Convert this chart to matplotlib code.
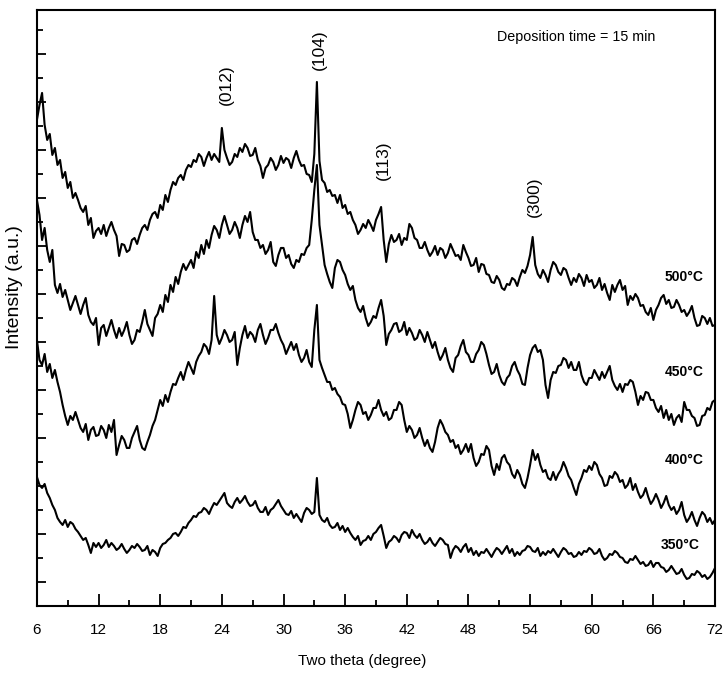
import numpy as np
import matplotlib
matplotlib.use('Agg')
import matplotlib.pyplot as plt
from matplotlib.ticker import MultipleLocator

# XRD patterns, 2theta sampled every 0.25 degree from 6 to 72
two_theta = np.arange(6, 72.001, 0.25)

i_500 = [
    486, 501, 513, 481,  466, 472, 451, 458,  441, 446, 428, 434,  418, 424, 408, 413,
    406, 398, 394, 400,  381, 388, 368, 375,  378, 372, 381, 370,  378, 384, 376, 370,
    350, 362, 361, 354,  356, 366, 368, 362,  371, 378, 381, 376,  386, 392, 394, 388,
    401, 396, 411, 404,  416, 424, 421, 428,  431, 426, 436, 441,  439, 446, 444, 452,
    449, 440, 448, 454,  446, 452, 448, 444,  478, 456, 448, 441,  444, 452, 449, 458,
    454, 462, 458, 450,  451, 458, 446, 440,  428, 438, 441, 448,  444, 436, 441, 450,
    443, 448, 446, 438,  448, 455, 446, 440,  441, 432, 431, 424,  452, 524, 445, 426,
    423, 414, 416, 410,  411, 403, 411, 398,  401, 392, 394, 386,  381, 372, 376, 382,
    378, 386, 381, 375,  386, 392, 399, 366,  344, 362, 371, 364,  366, 372, 361, 368,
    366, 382, 378, 368,  366, 358, 358, 364,  356, 350, 354, 360,  351, 358, 356, 348,
    353, 362, 356, 350,  351, 346, 361, 354,  348, 340, 341, 348,  334, 342, 341, 332,
    331, 324, 323, 330,  326, 318, 316, 322,  321, 328, 326, 320,  329, 336, 333, 340,
    351, 369, 341, 332,  328, 336, 331, 324,  336, 344, 341, 334,  331, 338, 336, 328,
    321, 328, 324, 332,  328, 320, 331, 324,  326, 318, 321, 328,  316, 322, 313, 306,
    321, 314, 321, 326,  316, 320, 301, 310,  306, 312, 308, 300,  301, 294, 291, 298,
    286, 296, 301, 308,  311, 302, 306, 298,  299, 306, 301, 294,  296, 290, 294, 300,
    288, 280, 281, 290,  288, 282, 288, 280,  281,
]

i_450 = [
    406, 391, 366, 378,  356, 344, 356, 321,  313, 322, 309, 316,  306, 296, 303, 310,
    301, 292, 301, 308,  291, 284, 281, 288,  261, 278, 281, 270,  278, 286, 276, 268,
    278, 270, 276, 284,  271, 262, 266, 276,  274, 284, 296, 282,  276, 270, 288, 292,
    301, 294, 311, 304,  321, 314, 329, 322,  334, 342, 336, 341,  346, 338, 354, 348,
    361, 352, 366, 358,  371, 380, 376, 368,  381, 390, 381, 372,  376, 384, 378, 368,
    381, 390, 384, 394,  374, 366, 366, 358,  361, 352, 356, 364,  344, 340, 351, 358,
    358, 348, 351, 342,  338, 346, 344, 352,  351, 358, 361, 386,  416, 441, 381, 361,
    341, 332, 324, 318,  338, 346, 344, 336,  331, 322, 316, 320,  306, 298, 294, 300,
    288, 280, 284, 290,  288, 298, 306, 290,  261, 272, 276, 282,  283, 274, 276, 284,
    271, 278, 273, 266,  268, 276, 271, 264,  274, 266, 258, 264,  254, 246, 251, 258,
    246, 238, 234, 248,  251, 260, 266, 254,  251, 244, 244, 252,  256, 264, 261, 252,
    241, 232, 234, 242,  231, 224, 221, 228,  231, 240, 244, 236,  231, 222, 221, 238,
    251, 258, 261, 254,  256, 246, 221, 208,  226, 234, 233, 240,  241, 248, 246, 238,
    244, 236, 236, 244,  231, 224, 221, 228,  228, 236, 231, 226,  234, 228, 234, 240,
    226, 220, 216, 222,  214, 222, 221, 226,  224, 214, 201, 210,  206, 214, 213, 206,
    206, 198, 194, 200,  188, 196, 186, 192,  181, 188, 191, 184,  204, 196, 196, 190,
    188, 180, 181, 190,  191, 198, 196, 204,  206,
]

i_400 = [
    266, 246, 241, 252,  234, 242, 228, 236,  224, 214, 201, 190,  181, 190, 186, 194,
    186, 178, 174, 182,  166, 176, 179, 170,  171, 180, 176, 168,  181, 174, 186, 151,
    161, 170, 166, 158,  158, 168, 174, 180,  166, 158, 156, 164,  171, 180, 186, 196,
    206, 200, 211, 204,  214, 222, 221, 228,  234, 226, 236, 244,  238, 232, 244, 250,
    254, 262, 259, 252,  266, 310, 271, 262,  268, 276, 271, 264,  266, 274, 241, 258,
    271, 280, 268, 274,  271, 264, 276, 282,  271, 262, 268, 276,  276, 282, 273, 266,
    261, 252, 258, 264,  256, 262, 251, 244,  248, 256, 244, 239,  276, 301, 246, 238,
    231, 224, 224, 216,  218, 212, 209, 202,  201, 192, 178, 186,  196, 204, 201, 192,
    194, 186, 191, 198,  198, 206, 196, 190,  194, 186, 188, 196,  196, 204, 201, 186,
    174, 180, 176, 168,  171, 178, 168, 160,  166, 158, 154, 164,  178, 186, 181, 174,
    171, 164, 166, 158,  161, 152, 156, 162,  154, 162, 148, 140,  144, 152, 151, 160,
    156, 140, 131, 142,  136, 148, 151, 144,  141, 132, 128, 136,  131, 122, 118, 128,
    141, 156, 146, 152,  141, 134, 136, 128,  126, 134, 126, 132,  136, 144, 138, 130,
    126, 118, 111, 122,  128, 136, 134, 140,  136, 144, 141, 132,  128, 120, 121, 130,
    128, 134, 131, 124,  126, 118, 121, 128,  116, 122, 114, 108,  111, 118, 109, 102,
    106, 112, 106, 98,   103, 110, 101, 96,   99, 92, 96, 104,    91, 84, 88, 94,
    86, 80, 88, 94,      91, 84, 88, 82,      86,
]

i_350 = [
    129, 121, 118, 122,  113, 108, 101, 96,   88, 84, 81, 86,     79, 84, 82, 77,
    74, 70, 66, 68,      61, 53, 63, 59,      63, 58, 61, 66,     59, 63, 60, 56,
    58, 62, 57, 53,      56, 60, 58, 62,      59, 55, 56, 60,     51, 56, 54, 50,
    58, 62, 63, 66,      68, 72, 73, 70,      74, 79, 78, 83,     86, 90, 89, 93,
    94, 98, 96, 92,      98, 103, 101, 105,   109, 113, 103, 100, 98, 104, 108, 103,
    106, 110, 104, 100,  101, 105, 98, 94,    94, 99, 91, 96,     98, 102, 106, 100,
    96, 92, 91, 95,      88, 92, 88, 84,      93, 98, 96, 92,     94, 128, 91, 86,
    84, 88, 81, 78,      79, 83, 76, 80,      74, 78, 73, 69,     66, 70, 61, 65,
    66, 70, 66, 72,      74, 78, 81, 70,      58, 64, 66, 70,     68, 64, 71, 74,
    73, 68, 76, 71,      68, 72, 66, 62,      64, 68, 63, 60,     64, 68, 66, 62,
    61, 48, 56, 60,      58, 54, 59, 62,      54, 58, 51, 55,     50, 54, 53, 57,
    53, 49, 54, 58,      56, 52, 56, 60,      53, 57, 50, 54,     51, 55, 56, 60,
    59, 55, 54, 58,      50, 54, 51, 55,      53, 57, 53, 49,     54, 58, 56, 52,
    53, 49, 50, 54,      51, 55, 54, 58,      56, 52, 53, 57,     50, 46, 48, 52,
    51, 55, 53, 49,      48, 44, 43, 47,      46, 50, 46, 42,     44, 40, 41, 45,
    39, 43, 43, 39,      38, 34, 36, 40,      36, 32, 33, 37,     31, 27, 28, 32,
    31, 35, 33, 29,      31, 27, 29, 33,      38,
]

temps = ['500°C', '450°C', '400°C', '350°C']
hkl = ['(012)', '(104)', '(113)', '(300)']
hkl_pos = [24.0, 33.25, 39.5, 54.25]

plt.rcParams['font.family'] = 'Liberation Sans'

fig = plt.figure(figsize=(7.24, 6.73), dpi=100)
ax = fig.add_axes([0.051, 0.0996, 0.9366, 0.8856])

for series in (i_500, i_450, i_400, i_350):
    ax.plot(two_theta, series, color='black', lw=1.5)

ax.set_xlim(6, 72)
ax.set_ylim(0, 596)

ax.xaxis.set_major_locator(MultipleLocator(6))
ax.xaxis.set_minor_locator(MultipleLocator(3))
ax.yaxis.set_major_locator(MultipleLocator(48, offset=24))
ax.yaxis.set_minor_locator(MultipleLocator(24))
ax.tick_params(axis='x', which='major', direction='in', length=9, width=1.3,
               labelsize=11, pad=12)
ax.tick_params(axis='x', which='minor', direction='in', length=4, width=1.3)
ax.tick_params(axis='y', which='major', direction='in', length=6.5, width=1.3,
               labelleft=False)
ax.tick_params(axis='y', which='minor', direction='in', length=4, width=1.3)
for side in ax.spines.values():
    side.set_linewidth(1.5)

ax.set_xlabel('Two theta (degree)', fontsize=11)
ax.xaxis.set_label_coords(0.479, -0.08)
ax.set_ylabel('Intensity (a.u.)', fontsize=14)
ax.yaxis.set_label_coords(-0.021, 0.535)

# sample temperature labels
for name, (tx, ty) in zip(temps, [(69.0, 329), (69.0, 234), (69.0, 146), (68.6, 61)]):
    ax.text(tx, ty, name, fontsize=10, fontweight='bold',
            ha='center', va='center')

# reflection labels
for name, px, ty in zip(hkl, hkl_pos, [521, 556, 446, 409]):
    ax.text(px + 0.4 if name == '(012)' else px + 0.2, ty, name, fontsize=12.5,
            rotation=90, ha='center', va='center')

ax.text(50.8, 569, 'Deposition time = 15 min', fontsize=10.3,
        ha='left', va='center')

fig.savefig('out.png', dpi=100)
